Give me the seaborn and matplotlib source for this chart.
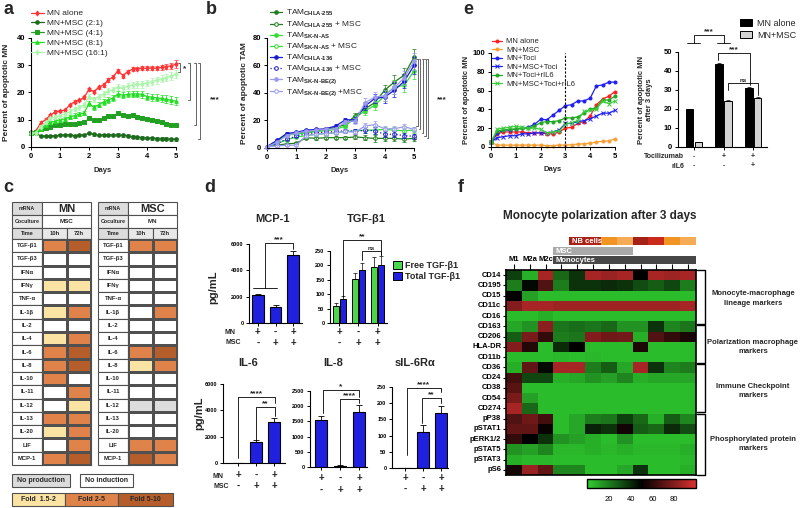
import numpy as np
import pandas as pd
import matplotlib
matplotlib.use("Agg")
import matplotlib.pyplot as plt
import seaborn as sns
from matplotlib.colors import ListedColormap, LinearSegmentedColormap
from matplotlib.patches import Rectangle

sns.set_theme(style="ticks")
plt.rcParams["font.family"] = ["Liberation Sans", "DejaVu Sans"]
plt.rcParams["font.weight"] = "bold"
plt.rcParams["axes.labelweight"] = "bold"
plt.rcParams["mathtext.fontset"] = "custom"
plt.rcParams["mathtext.rm"] = "Liberation Sans"
plt.rcParams["mathtext.bf"] = "Liberation Sans:bold"
plt.rcParams["mathtext.default"] = "regular"

W, H = 800, 508

# ---------------- data: panel a (apoptotic MN over time) ----------------
hours_a = [0, 4, 8, 12, 16, 20, 24, 28, 32, 36, 40, 44, 48, 52, 56, 60, 64, 68,
           72, 76, 80, 84, 88, 92, 96, 100, 104, 108, 112, 116, 120]
mn_alone = [5.5, 5.8, 8.9, 10, 11.7, 12.9, 13.2, 13.5, 15.4, 16.6, 17.2, 18.2, 21.2, 20.3, 21.9, 22.8,
            24.6, 25.8, 28, 26.2, 27.7, 28.6, 28.8, 28.9, 28.9, 29, 28.9, 29.2, 29.5, 29.8, 30.4]
mn_msc_2 = [5, 5.2, 4, 4, 4, 4.2, 4.3, 4.5, 4.5, 4.2, 4.3, 4.5, 5, 4.6, 4.3, 4.5,
            4.5, 4.4, 4.5, 4.3, 4.1, 3.8, 3.6, 3.4, 3.3, 3.2, 3.1, 3, 3, 2.8, 2.8]
mn_msc_4 = [5, 5.5, 6.5, 7, 7.5, 8, 8, 8.3, 8.5, 8.5, 8.8, 9, 10.5, 9.8, 10, 10.5,
            11.3, 11.5, 12.3, 11.7, 11.5, 11.7, 11, 10.8, 10.3, 10, 9.5, 9, 8.5, 8.2, 8]
mn_msc_8 = [5, 5.5, 6.5, 8, 9, 9.5, 10, 10.3, 11, 11.5, 12, 12.5, 16, 14.5, 15.5, 16.5,
            17.3, 18, 19.5, 19, 19.3, 19.5, 19.5, 19.3, 18.5, 18.3, 18, 17.8, 17.5, 17.2, 16.8]
mn_msc_16 = [5, 5.3, 7.5, 9, 10.5, 11, 11.5, 12, 13, 14, 14.5, 15.5, 18.5, 17.5, 18.5, 19.5,
             20.5, 21, 22, 21.5, 22.3, 22.8, 23, 23, 23.5, 24, 24.5, 25, 25.5, 26, 26.8]
err_alone = [0.3, 0.3, 0.5, 0.5, 0.5, 0.5, 0.5, 0.5, 0.5, 0.5, 0.5, 0.5, 0.6, 0.6, 0.6, 0.6,
             0.6, 0.6, 0.7, 0.7, 0.7, 0.7, 0.7, 0.7, 0.8, 0.8, 0.8, 0.9, 1.0, 1.2, 1.4]
err_mix = [0.3, 0.3, 0.5, 0.6, 0.6, 0.7, 0.7, 0.7, 0.8, 0.8, 0.8, 0.8, 0.9, 0.9, 0.9, 1.0,
           1.0, 1.0, 1.1, 1.1, 1.1, 1.2, 1.2, 1.2, 1.2, 1.3, 1.3, 1.3, 1.4, 1.4, 1.5]
err_low = [0.2, 0.2, 0.3, 0.3, 0.3, 0.3, 0.3, 0.3, 0.3, 0.3, 0.3, 0.3, 0.4, 0.4, 0.4, 0.4,
           0.4, 0.4, 0.5, 0.5, 0.5, 0.5, 0.5, 0.5, 0.5, 0.5, 0.5, 0.5, 0.5, 0.5, 0.5]

# ---------------- data: panel b (apoptotic TAM) ----------------
hours_b = [0, 8, 16, 24, 32, 40, 48, 56, 64, 72, 80, 88, 96, 104, 112, 120]
tam_chla255 = [1, 5, 10, 10.5, 12, 12.5, 13.5, 15, 17, 23.5, 28.5, 33, 42, 48, 53, 66]
tam_chla255_msc = [1, 2, 3, 3.5, 7.5, 7, 7.5, 7.5, 7.5, 8, 7.5, 7, 7, 7, 6.5, 7]
tam_sknas = [1, 4.5, 9.5, 10, 11, 12, 12.5, 13.5, 16, 22, 27, 31, 38, 44.5, 45.5, 56]
tam_sknas_msc = [1, 3, 6, 8, 9, 10, 10.5, 11, 12, 12.5, 13, 13, 13.5, 13, 12.5, 13]
tam_chla136 = [1, 5.5, 10.5, 11.5, 13, 13.5, 14, 16, 20.5, 20.5, 30.5, 36, 37, 42, 48.5, 60]
tam_chla136_msc = [1, 3, 6.5, 8.5, 10.5, 11, 11.5, 12, 12.5, 12, 13, 12.5, 10, 10, 9, 8.5]
tam_sknbe = [1, 4, 9, 11, 12, 13, 13.5, 14, 19, 19.5, 33, 37, 38, 44, 51, 63]
tam_sknbe_msc = [1, 1.5, 2, 2, 9, 10, 10.5, 11, 12, 11.5, 16, 17, 14, 14, 15.5, 13.5]
err_tam = [0.3, 0.8, 1, 1, 1, 1, 1, 1.2, 1.5, 2, 3, 3.5, 4, 5, 5, 6]
err_tam_msc = [0.3, 0.6, 0.8, 0.8, 1, 1, 1, 1, 1.2, 1.5, 2, 2.5, 2, 2, 2, 2]

# ---------------- data: panel e (tocilizumab) ----------------
hours_e = [0, 6, 12, 18, 24, 30, 36, 42, 48, 54, 60, 66, 72, 78, 84, 90, 96, 102, 108, 114, 120]
e_mn = [5, 14, 16, 16, 16, 16, 15, 15, 15, 14, 14, 16, 20, 21, 25, 27, 33, 45, 51, 54, 59]
e_mn_msc = [5, 2, 2, 2, 2, 2, 2, 2, 2, 1.5, 1.5, 2, 2, 2.5, 3, 3.5, 4, 5.5, 6, 6.5, 8.5]
e_toci = [5, 15, 18, 18, 19, 20, 21, 24, 29.5, 29, 34, 39, 44, 45, 49, 49, 52, 65, 66, 69, 69]
e_msc_toci = [5, 10, 11, 12, 12, 14, 14, 15, 15, 15, 16, 18, 25, 25, 27, 28, 30, 33, 36, 36, 39]
e_toci_il6 = [5, 17, 18, 19, 19, 20, 20, 22, 26, 27, 27, 28, 31, 31, 32, 36, 40, 42, 50, 50, 54]
e_msc_toci_il6 = [5, 19, 20, 21, 22, 21, 20, 20, 19, 15, 16, 17, 24, 26, 28, 38, 39, 40, 49, 46, 49]

e_groups = ["Ctrl", "Toci", "Toci+rIL6"]
e3_mn = [19.8, 43.8, 31.3]
e3_msc = [2.5, 24.3, 25.8]
e3_mn_err = [0.3, 0.6, 0.5]
e3_msc_err = [0.3, 0.6, 0.5]
toci_signs = ["-", "+", "+"]
il6_signs = ["-", "-", "+"]

# ---------------- data: panel c (mRNA induction table) ----------------
cyto = ["TGF-β1", "TGF-β3", "IFNα", "IFNγ", "TNF-α", "IL-1β", "IL-2", "IL-4", "IL-6",
        "IL-8", "IL-10", "IL-11", "IL-12", "IL-13", "IL-20", "LIF", "MCP-1"]
# -1 no production, 0 no induction, 1 fold 1.5-2, 2 fold 2-5, 3 fold 5-10
mn_fold = [[2, 3], [0, 0], [0, 0], [1, 1], [0, 0], [1, 2], [0, 0], [1, 2], [2, 3],
           [2, 3], [2, 0], [0, 2], [0, 1], [2, 2], [1, 2], [0, 2], [2, 3]]
msc_fold = [[2, 2], [0, 0], [0, 0], [0, 0], [0, 0], [0, 2], [0, 0], [0, 0], [2, 3],
            [1, 2], [0, 0], [0, 0], [-1, -1], [0, 0], [0, 0], [2, 2], [3, 2]]

# ---------------- data: panel d (secreted factors) ----------------
mn_signs = ["+", "-", "+"]
msc_signs = ["-", "+", "+"]
mcp1 = [2100, 1250, 5150]
mcp1_err = [100, 150, 350]
tgf_free = [58, 152, 195]
tgf_free_err = [12, 22, 35]
tgf_total = [85, 185, 203]
tgf_total_err = [8, 25, 30]
il6 = [0, 1600, 3100]
il6_err = [0, 150, 350]
il8 = [1560, 40, 1820]
il8_err = [130, 30, 230]
sil6r = [0, 110, 170]
sil6r_err = [0, 22, 20]

# ---------------- data: panel f (heatmap) ----------------
markers = ["CD14", "CD195", "CD15", "CD11c", "CD16", "CD163", "CD206", "HLA-DR", "CD11b", "CD36",
           "CD24", "CD38", "CD54", "CD274", "pP38", "pSTAT1", "pERK1/2", "pSTAT5", "pSTAT3", "pS6"]
heat_cols = ["M1", "M2a", "M2c", "", "", "", "", "", "", "", "", ""]
heat = [
    [35, 8, 88, 25, 38, 88, 85, 88, 50, 88, 86, 88],
    [20, 48, 68, 20, 38, 38, 40, 38, 32, 28, 33, 20],
    [50, 12, 5, 5, 5, 5, 5, 5, 5, 5, 5, 5],
    [80, 88, 88, 86, 86, 86, 86, 86, 86, 86, 86, 88],
    [5, 5, 8, 5, 5, 5, 5, 5, 5, 5, 5, 5],
    [10, 15, 82, 22, 24, 22, 25, 15, 15, 38, 18, 22],
    [28, 78, 62, 20, 22, 80, 75, 76, 8, 68, 62, 56],
    [80, 58, 5, 40, 50, 5, 5, 5, 57, 5, 5, 5],
    [5, 5, 5, 6, 5, 6, 5, 5, 5, 5, 5, 5],
    [8, 72, 48, 88, 88, 20, 28, 10, 88, 38, 18, 20],
    [65, 33, 33, 8, 10, 15, 12, 18, 8, 10, 10, 10],
    [70, 5, 5, 5, 5, 5, 5, 5, 5, 5, 5, 5],
    [78, 12, 5, 5, 5, 5, 5, 5, 5, 5, 5, 5],
    [88, 25, 5, 5, 5, 5, 5, 5, 5, 5, 5, 5],
    [68, 75, 65, 5, 10, 20, 22, 35, 25, 8, 28, 18],
    [72, 72, 52, 5, 10, 42, 38, 54, 28, 25, 40, 32],
    [62, 50, 38, 15, 12, 8, 5, 15, 5, 5, 5, 5],
    [15, 12, 18, 6, 6, 8, 6, 8, 6, 6, 6, 8],
    [8, 6, 6, 5, 5, 5, 5, 5, 5, 5, 5, 6],
    [55, 85, 72, 18, 18, 5, 5, 10, 38, 5, 5, 8],
]
nb_colors = ["#A52218", "#B02418", "#F29422", "#F5AA55", "#A52218", "#C92A1C", "#F29422", "#F5AA55"]

fig = plt.figure(figsize=(8, 5.08), dpi=100)


def px_axes(l, t, r, b):
    return fig.add_axes([l / W, 1 - b / H, (r - l) / W, (b - t) / H])


def ftext(x, y, s, **kw):
    kw.setdefault("ha", "center")
    kw.setdefault("va", "center")
    fig.text(x / W, 1 - y / H, s, **kw)


def prism(ax, fs=5.5):
    sns.despine(ax=ax)
    for s in ["left", "bottom"]:
        ax.spines[s].set_linewidth(0.8)
        ax.spines[s].set_color("black")
    ax.tick_params(length=2.5, width=0.7, labelsize=fs, pad=1.5, colors="black")
    ax.set_xlabel("")
    ax.set_ylabel("")


def series(ax, x, y, err, color, marker, label, mfc=None, ls="-", ms=2.6):
    sns.lineplot(x=x, y=y, ax=ax, color=color, marker=marker, markersize=ms,
                 markerfacecolor=mfc or color, markeredgecolor=color, markeredgewidth=0.7,
                 lw=0.9, linestyle=ls, label=label, clip_on=False)
    if err is not None:
        ax.errorbar(x, y, yerr=err, fmt="none", ecolor=color, elinewidth=0.5,
                    capsize=1.2, capthick=0.5, clip_on=False)


def vbracket(ax, x, y0, y1, cap=0.06, color="#666666"):
    ax.plot([x - cap, x, x, x - cap], [y0, y0, y1, y1], color=color, lw=0.7, clip_on=False)


def sig(ax, x0, x1, ytop, yl, yr, txt, fs=6):
    ax.plot([x0, x0, x1, x1], [yl, ytop, ytop, yr], color="black", lw=0.6, clip_on=False)
    ax.text((x0 + x1) / 2, ytop, txt, ha="center", va="bottom", fontsize=fs, clip_on=False)


# ====================== panel a ======================
ax_a = px_axes(31, 38, 176, 147)
days_a = np.array(hours_a) / 24
series(ax_a, days_a, mn_alone, err_alone, "#FF3333", "d", "MN alone")
series(ax_a, days_a, mn_msc_2, err_low, "#1B6B1B", "o", "MN+MSC (2:1)")
series(ax_a, days_a, mn_msc_4, err_low, "#21A021", "s", "MN+MSC (4:1)")
series(ax_a, days_a, mn_msc_8, err_mix, "#22DD22", "^", "MN+MSC (8:1)")
series(ax_a, days_a, mn_msc_16, err_mix, "#ACF5AC", "d", "MN+MSC (16:1)")
ax_a.set(xlim=(0, 5), ylim=(0, 40), xticks=range(6), yticks=[0, 10, 20, 30, 40])
prism(ax_a)
ax_a.set_ylabel("Percent of apoptotic MN", fontsize=6)
ax_a.yaxis.set_label_coords(-0.145, 0.5)
ax_a.legend(loc="upper left", bbox_to_anchor=(0.0, 1.26), frameon=False, fontsize=6,
            handlelength=1.5, handletextpad=0.4, labelspacing=0.25, borderaxespad=0, borderpad=0,
            prop={"weight": "normal", "size": 6})
vbracket(ax_a, 5.14, 30.8, 27.5)
ax_a.text(5.24, 28.8, "*", fontsize=6, va="center")
for xb, yb in [(5.48, 17.2), (5.69, 8.0), (5.83, 2.9)]:
    vbracket(ax_a, xb, 30.8, yb)
ax_a.text(6.17, 17.2, "***", fontsize=6, va="center")
ftext(103, 170, "Days", fontsize=5.5)

# ====================== panel b ======================
ax_b = px_axes(267, 38, 414, 148)
days_b = np.array(hours_b) / 24
series(ax_b, days_b, tam_chla255, err_tam, "#1E7B1E", "o", r"TAM$_{\text{CHLA-255}}$")
series(ax_b, days_b, tam_chla255_msc, err_tam_msc, "#1E7B1E", "o", r"TAM$_{\text{CHLA-255}}$ + MSC", mfc="white")
series(ax_b, days_b, tam_sknas, err_tam, "#33DD33", "o", r"TAM$_{\text{SK-N-AS}}$")
series(ax_b, days_b, tam_sknas_msc, err_tam_msc, "#33DD33", "o", r"TAM$_{\text{SK-N-AS}}$ + MSC", mfc="white")
series(ax_b, days_b, tam_chla136, err_tam, "#1A1AD0", "o", r"TAM$_{\text{CHLA-136}}$")
series(ax_b, days_b, tam_chla136_msc, err_tam_msc, "#1A1AD0", "o", r"TAM$_{\text{CHLA-136}}$ + MSC", mfc="white", ls=":")
series(ax_b, days_b, tam_sknbe, err_tam, "#9A9AEE", "o", r"TAM$_{\text{SK-N-BE(2)}}$")
series(ax_b, days_b, tam_sknbe_msc, err_tam_msc, "#9A9AEE", "o", r"TAM$_{\text{SK-N-BE(2)}}$ +MSC", mfc="white")
ax_b.set(xlim=(0, 5), ylim=(0, 80), xticks=range(6), yticks=[0, 20, 40, 60, 80])
prism(ax_b)
ax_b.set_ylabel("Percent of apoptotic TAM", fontsize=6)
ax_b.yaxis.set_label_coords(-0.13, 0.5)
ax_b.legend(loc="upper left", bbox_to_anchor=(0.02, 1.27), frameon=False,
            handlelength=1.4, handletextpad=0.5, labelspacing=0.12, borderaxespad=0, borderpad=0,
            prop={"weight": "normal", "size": 6})
for xb, yb in zip([5.13, 5.22, 5.31, 5.40, 5.49], [16, 13.5, 11, 9, 7]):
    vbracket(ax_b, xb, 65, yb, cap=0.05)
ax_b.text(5.95, 35, "***", fontsize=6, va="center", ha="center")
ftext(340, 170, "Days", fontsize=5.5)

# ====================== panel e (lines) ======================
ax_e = px_axes(491, 53, 615, 147)
days_e = np.array(hours_e) / 24
series(ax_e, days_e, e_mn, None, "#FF2020", "o", "MN alone", ms=2.2)
series(ax_e, days_e, e_mn_msc, None, "#F7A035", "o", "MN+MSC", ms=2.2)
series(ax_e, days_e, e_toci, None, "#2020F0", "o", "MN+Toci", ms=2.2)
series(ax_e, days_e, e_msc_toci, None, "#2020F0", "x", "MN+MSC+Toci", ms=2.6)
series(ax_e, days_e, e_toci_il6, None, "#1FA81F", "o", "MN+Toci+rIL6", ms=2.2)
series(ax_e, days_e, e_msc_toci_il6, None, "#3CCC3C", "x", "MN+MSC+Toci+rIL6", ms=2.6)
ax_e.axvline(3, color="black", ls=(0, (2, 1.5)), lw=0.8)
ax_e.set(xlim=(0, 5), ylim=(0, 100), xticks=range(6), yticks=[0, 20, 40, 60, 80, 100])
prism(ax_e)
ax_e.set_ylabel("Percent of apoptotic MN", fontsize=5.5)
ax_e.yaxis.set_label_coords(-0.17, 0.5)
ax_e.legend(loc="upper left", bbox_to_anchor=(0.01, 1.16), frameon=False,
            handlelength=1.3, handletextpad=0.5, labelspacing=0.15, borderaxespad=0, borderpad=0,
            prop={"weight": "normal", "size": 5.5})
ftext(553, 169, "Days", fontsize=5.5)

# ====================== panel e (bars) ======================
ax_e2 = px_axes(678, 52, 767, 147)
df_e3 = pd.DataFrame({"grp": e_groups * 2,
                      "cond": ["MN alone"] * 3 + ["MN+MSC"] * 3,
                      "val": e3_mn + e3_msc})
sns.barplot(data=df_e3, x="grp", y="val", hue="cond", palette=["black", "#D3D3D3"],
            edgecolor="black", linewidth=0.7, width=0.6, gap=0.13, errorbar=None, ax=ax_e2)
for cont, errs in zip(ax_e2.containers, [e3_mn_err, e3_msc_err]):
    for bar, e in zip(cont, errs):
        ax_e2.errorbar(bar.get_x() + bar.get_width() / 2, bar.get_height(), yerr=[[0], [e]],
                       fmt="none", ecolor="black", elinewidth=0.5, capsize=1.5, capthick=0.5)
ax_e2.set(xlim=(-0.54, 2.47), ylim=(0, 50), yticks=[0, 10, 20, 30, 40, 50])
prism(ax_e2)
ax_e2.set_xticklabels([])
ax_e2.set_ylabel("Percent of apoptotic MN\nafter 3 days", fontsize=5.5, linespacing=1.3)
ax_e2.yaxis.set_label_coords(-0.28, 0.5)
sns.move_legend(ax_e2, loc="upper left", bbox_to_anchor=(0.70, 1.35), frameon=False, title=None,
                handlelength=1.3, handleheight=0.8, handletextpad=0.6, labelspacing=0.35,
                borderaxespad=0, borderpad=0, prop={"weight": "normal", "size": 6.5})
tr = ax_e2.get_xaxis_transform()
for i, (s1, s2) in enumerate(zip(toci_signs, il6_signs)):
    ax_e2.text(i, -0.105, s1, transform=tr, ha="center", va="center", fontsize=5)
    ax_e2.text(i, -0.2, s2, transform=tr, ha="center", va="center", fontsize=5)
ftext(684, 157, "Tocilizumab", ha="right", fontsize=5)
ftext(684, 166, "rIL6", ha="right", fontsize=5)
# significance
for xc in [0, 1]:
    ax_e2.plot([xc - 0.22, xc + 0.22], [54.7, 54.7], color="black", lw=0.6, clip_on=False)
sig(ax_e2, 0, 1, 59, 54.7, 54.7, "***", fs=6)
sig(ax_e2, 0.8, 1.9, 49.5, 45.8, 32.5, "***", fs=6)
sig(ax_e2, 1.15, 2.15, 33.7, 30, 27.4, "ns", fs=4.5)

# ====================== panel c ======================
axc = fig.add_axes([0, 0, 200 / W, 1])
axc.set_xlim(0, 200)
axc.set_ylim(H, 0)
axc.axis("off")


def cell(x0, y0, x1, y1, fc, txt="", fs=4.2):
    axc.add_patch(Rectangle((x0, y0), x1 - x0, y1 - y0, fc=fc, ec="#505050", lw=0.8))
    if txt:
        axc.text((x0 + x1) / 2, (y0 + y1) / 2, txt, ha="center", va="center", fontsize=fs)


fold_cmap = ListedColormap(["#DCDCDC", "#FFFFFF", "#FBE3A3", "#E0834A", "#B55E2C"])
row_h = (465 - 239) / len(cyto)
for (xl, xm, xmid, xr), title, partner, codes in [
        ((12, 42, 67, 91), "MN", "MSC", mn_fold),
        ((98, 128, 153, 177), "MSC", "MN", msc_fold)]:
    cell(xl, 202, xm, 215, "#DCDCDC", "mRNA", fs=3.8)
    cell(xm, 202, xr, 215, "white", title, fs=8)
    cell(xl, 215, xm, 228, "#EBEBEB", "Coculture", fs=3.8)
    cell(xm, 215, xr, 228, "white", partner, fs=4.5)
    cell(xl, 228, xm, 239, "#DCDCDC", "Time", fs=4)
    cell(xm, 228, xmid, 239, "#E8E8E8", "10h", fs=4.2)
    cell(xmid, 228, xr, 239, "#E8E8E8", "72h", fs=4.2)
    for i, name in enumerate(cyto):
        cell(xl, 239 + i * row_h, xm, 239 + (i + 1) * row_h, "white", name, fs=4.2)
    axt = px_axes(xm, 239, xr, 465)
    sns.heatmap(np.array(codes), ax=axt, cmap=fold_cmap, vmin=-1.5, vmax=3.5, cbar=False,
                linewidths=0.8, linecolor="#505050", xticklabels=False, yticklabels=False)
    for s in axt.spines.values():
        s.set_visible(True)
        s.set_color("#505050")
        s.set_linewidth(0.8)

cell(12, 474, 70, 487, "#DCDCDC", "No production", fs=5)
cell(80, 474, 133, 487, "white", "No induction", fs=5)
cell(12, 493, 65, 506, "#FBE3A3", "Fold  1.5-2", fs=5)
cell(65, 493, 118, 506, "#E0834A", "Fold 2-5", fs=5)
cell(118, 493, 173, 506, "#B55E2C", "Fold 5-10", fs=5)


# ====================== panel d ======================
def bar_panel(box, vals, errs, ylim, yticks, title, title_xy, sign_y):
    ax = px_axes(*box)
    sns.barplot(x=["MN", "MSC", "MN+MSC"], y=vals, ax=ax, color="#0000FF", edgecolor="black",
                linewidth=0.8, width=0.65)
    ax.errorbar([0, 1, 2], vals, yerr=[[0, 0, 0], errs], fmt="none", ecolor="black",
                elinewidth=0.6, capsize=2, capthick=0.6)
    ax.set(ylim=ylim, yticks=yticks)
    prism(ax, fs=4)
    ax.set_xticklabels([])
    ftext(*title_xy, title, fontsize=8)
    trd = ax.get_xaxis_transform()
    for i, (a, b) in enumerate(zip(mn_signs, msc_signs)):
        ax.text(i, sign_y[0], a, transform=trd, ha="center", va="center", fontsize=7)
        ax.text(i, sign_y[1], b, transform=trd, ha="center", va="center", fontsize=7)
    return ax


ax_mcp = bar_panel((249, 244, 302, 323), mcp1, mcp1_err, (0, 6000), [0, 2000, 4000, 6000],
                   "MCP-1", (273, 219), (-0.114, -0.253))
ax_mcp.set_xlim(-0.5, 2.5)
ax_mcp.plot([-0.3, 1.1], [2650, 2650], color="black", lw=0.6)
sig(ax_mcp, 0.42, 2, 6070, 2650, 5620, "***", fs=6)

ax_tgf = px_axes(330, 251, 387, 323)
df_tgf = pd.DataFrame({"cond": ["MN", "MSC", "MN+MSC"] * 2,
                       "kind": ["Free TGF-β1"] * 3 + ["Total TGF-β1"] * 3,
                       "val": tgf_free + tgf_total})
sns.barplot(data=df_tgf, x="cond", y="val", hue="kind", palette=["#33EE33", "#0000FF"],
            edgecolor="black", linewidth=0.7, width=0.75, gap=0.1, errorbar=None, ax=ax_tgf)
for cont, errs in zip(ax_tgf.containers, [tgf_free_err, tgf_total_err]):
    for bar, e in zip(cont, errs):
        ax_tgf.errorbar(bar.get_x() + bar.get_width() / 2, bar.get_height(), yerr=[[0], [e]],
                        fmt="none", ecolor="black", elinewidth=0.5, capsize=1.5, capthick=0.5)
ax_tgf.set(ylim=(0, 250), yticks=[0, 50, 100, 150, 200, 250])
prism(ax_tgf, fs=4)
ax_tgf.set_xticklabels([])
sns.move_legend(ax_tgf, loc="upper left", bbox_to_anchor=(1.1, 0.86), frameon=False, title=None,
                handlelength=1.0, handleheight=0.9, handletextpad=0.4, labelspacing=0.2,
                borderaxespad=0, borderpad=0, prop={"weight": "bold", "size": 6.5})
ftext(366, 219, "TGF-β1", fontsize=8)
trt = ax_tgf.get_xaxis_transform()
for i, (a, b) in enumerate(zip(mn_signs, msc_signs)):
    ax_tgf.text(i, -0.125, a, transform=trt, ha="center", va="center", fontsize=7)
    ax_tgf.text(i, -0.278, b, transform=trt, ha="center", va="center", fontsize=7)
sig(ax_tgf, 0.18, 2.18, 288, 90, 236, "**", fs=6)
sig(ax_tgf, 1.18, 2.18, 250, 219, 236, "ns", fs=4.5)

ax_il6 = bar_panel((223, 384, 285, 463), il6, il6_err, (0, 6000), [0, 2000, 4000, 6000],
                   "IL-6", (248, 363), (-0.152, -0.291))
ax_il6.set_xlim(-0.83, 2.61)
sig(ax_il6, 0, 2.05, 5010, 380, 4550, "****", fs=6)
sig(ax_il6, 1, 2.05, 4250, 1750, 3600, "**", fs=6)

ax_il8 = bar_panel((310, 391, 367, 467), il8, il8_err, (0, 2500), [0, 500, 1000, 1500, 2000, 2500],
                   "IL-8", (333, 363), (-0.145, -0.303))
ax_il8.set_xlim(-0.58, 2.42)
sig(ax_il8, 0.1, 2, 2530, 1780, 2300, "*", fs=6)
sig(ax_il8, 1, 2, 2240, 65, 2100, "****", fs=6)

ax_sil = bar_panel((392, 387, 448, 468), sil6r, sil6r_err, (0, 250), [0, 50, 100, 150, 200, 250],
                   "sIL-6Rα", (415, 363), (-0.123, -0.259))
ax_sil.set_xlim(-0.72, 2.39)
sig(ax_sil, 0.1, 2, 247, 40, 236, "****", fs=6)
sig(ax_sil, 0.95, 2, 216, 140, 200, "**", fs=6)

ftext(230, 332, "MN", fontsize=5)
ftext(233, 343, "MSC", fontsize=5)
ftext(218, 476, "MN", fontsize=5)
ftext(221, 487, "MSC", fontsize=5)
ftext(213, 287, "pg/mL", fontsize=8, rotation=90)
ftext(199, 413, "pg/mL", fontsize=8, rotation=90)

# ====================== panel f ======================
axh = px_axes(506, 270, 696, 475)
axcb = px_axes(587, 479, 696, 488)
gbr = LinearSegmentedColormap.from_list("gbr", ["#30D030", "#000000", "#DA3030"])
sns.heatmap(pd.DataFrame(heat, index=markers), ax=axh, cmap=gbr, vmin=0, vmax=100,
            cbar_ax=axcb, cbar_kws={"orientation": "horizontal", "ticks": [20, 40, 60, 80]},
            xticklabels=heat_cols, yticklabels=markers)
for s in axh.spines.values():
    s.set_visible(True)
    s.set_color("black")
    s.set_linewidth(1.2)
axh.xaxis.tick_top()
axh.tick_params(axis="x", top=True, bottom=False, labeltop=True, labelbottom=False,
                length=4.3, width=0.8, labelsize=5.5, pad=0.8, rotation=0, colors="black")
axh.tick_params(axis="y", left=True, length=2.5, width=0.8, labelsize=5.5, pad=1, rotation=0,
                colors="black")
cb = axh.collections[0].colorbar
cb.outline.set_linewidth(1)
cb.outline.set_edgecolor("black")
axcb.tick_params(direction="in", length=2.5, width=0.7, top=True, bottom=True, labelsize=5.5,
                 pad=6, colors="black")
for tl in axcb.get_xticklabels():
    tl.set_fontweight("normal")

# annotation bars above the heatmap
for j, c in enumerate(nb_colors):
    axh.add_patch(Rectangle((4 + j, -3.2), 1, 0.78, fc=c, ec="none", clip_on=False))
axh.text(4.15, -2.8, "NB cells", color="white", fontsize=5.5, va="center", clip_on=False)
axh.add_patch(Rectangle((3, -2.24), 5, 0.78, fc="#A9A9A9", ec="none", clip_on=False))
axh.text(3.15, -1.84, "MSC", color="white", fontsize=5.5, va="center", clip_on=False)
axh.add_patch(Rectangle((3, -1.37), 9, 0.78, fc="#474747", ec="none", clip_on=False))
axh.text(3.15, -0.97, "Monocytes", color="white", fontsize=5.5, va="center", clip_on=False)

# group brackets
for (y0, y1), lab, ymid in [((0, 5.3), "Monocyte-macrophage\nlineage markers", 2.8),
                            ((5.4, 9.05), "Polarization macrophage\nmarkers", 7.5),
                            ((9.15, 13.9), "Immune Checkpoint\nmarkers", 11.8),
                            ((14.0, 20.0), "Phosphorylated protein\nmarkers", 17.0)]:
    axh.plot([12.06, 12.57, 12.57, 12.06], [y0, y0, y1, y1], color="black", lw=1, clip_on=False)
    axh.text(15.6, ymid, lab, ha="center", va="center", fontsize=5.5, linespacing=1.5,
             clip_on=False)
axh.set_xlabel("")
axh.set_ylabel("")
ftext(600, 216, "Monocyte polarization after 3 days", fontsize=8.5)

# panel letters
for x, y, s in [(8, 9, "a"), (211, 10, "b"), (468, 9, "e"), (8, 188, "c"), (210, 188, "d"),
                (461, 188, "f")]:
    ftext(x, y, s, fontsize=13)

fig.savefig("out.png", dpi=100)
